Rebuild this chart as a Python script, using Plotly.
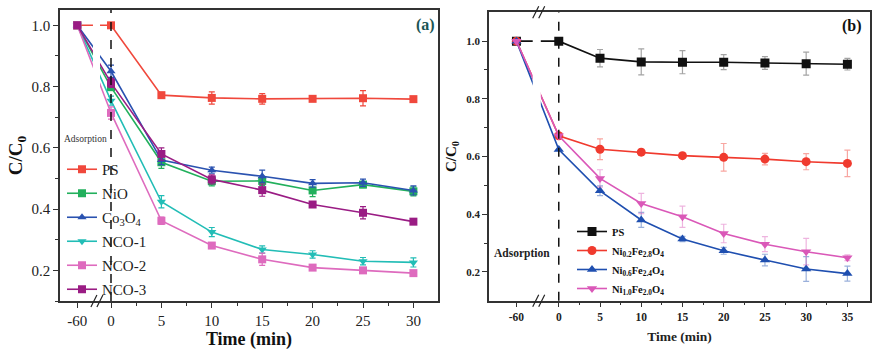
import plotly.graph_objects as go

# ---------------- data: panel (a) ----------------
time_a = [-60, 0, 5, 10, 15, 20, 25, 30]
ps_a = [1.0, 1.0, 0.772, 0.763, 0.760, 0.760, 0.762, 0.759]
ps_a_err = [0, 0, 0.008, 0.02, 0.017, 0.005, 0.025, 0.005]
nio = [1.0, 0.798, 0.553, 0.491, 0.492, 0.461, 0.480, 0.458]
nio_err = [0, 0.01, 0.02, 0.015, 0.015, 0.02, 0.01, 0.015]
co3o4 = [1.0, 0.85, 0.560, 0.527, 0.507, 0.484, 0.486, 0.461]
co3o4_err = [0, 0.02, 0.015, 0.01, 0.02, 0.012, 0.012, 0.015]
nco1 = [1.0, 0.754, 0.424, 0.325, 0.268, 0.252, 0.230, 0.226]
nco1_err = [0, 0.015, 0.02, 0.015, 0.012, 0.012, 0.012, 0.015]
nco2 = [1.0, 0.714, 0.362, 0.281, 0.236, 0.209, 0.200, 0.191]
nco2_err = [0, 0.02, 0.012, 0.008, 0.02, 0.008, 0.008, 0.008]
nco3 = [1.0, 0.812, 0.580, 0.497, 0.462, 0.415, 0.388, 0.359]
nco3_err = [0, 0.015, 0.02, 0.015, 0.02, 0.008, 0.02, 0.008]

# ---------------- data: panel (b) ----------------
time_b = [-60, 0, 5, 10, 15, 20, 25, 30, 35]
ps_b = [1.0, 1.0, 0.941, 0.928, 0.927, 0.927, 0.924, 0.922, 0.920]
ps_b_err = [0, 0, 0.03, 0.045, 0.04, 0.026, 0.022, 0.04, 0.02]
ni02 = [1.0, 0.672, 0.625, 0.615, 0.603, 0.597, 0.591, 0.582, 0.576]
ni02_err = [0, 0, 0.036, 0.01, 0.008, 0.048, 0.02, 0.028, 0.046]
ni06 = [1.0, 0.624, 0.481, 0.380, 0.314, 0.273, 0.241, 0.210, 0.194]
ni06_err = [0, 0, 0.017, 0.026, 0.009, 0.012, 0.02, 0.043, 0.026]
ni10 = [1.0, 0.672, 0.524, 0.437, 0.391, 0.333, 0.296, 0.270, 0.249]
ni10_err = [0, 0, 0.03, 0.035, 0.037, 0.032, 0.026, 0.046, 0.01]

tick_labels_a = ["-60", "0", "5", "10", "15", "20", "25", "30"]
tick_labels_b = ["-60", "0", "5", "10", "15", "20", "25", "30", "35"]

# broken-axis mapping: -60 min is drawn left of the break
NEG_POS_A = -3.35
NEG_POS_B = -5.13


def axis_pos(times, neg_pos):
    return [neg_pos if t < 0 else t for t in times]


xa = axis_pos(time_a, NEG_POS_A)
xb = axis_pos(time_b, NEG_POS_B)

SERIF = "Liberation Serif"
fig = go.Figure()

series_a = [
    ("PS", ps_a, ps_a_err, "#F0483C", "square"),
    ("NiO", nio, nio_err, "#22B05C", "square"),
    ("Co<sub>3</sub>O<sub>4</sub>", co3o4, co3o4_err, "#2A52B0", "triangle-up"),
    ("NCO-1", nco1, nco1_err, "#22BDB6", "triangle-down"),
    ("NCO-2", nco2, nco2_err, "#DE6BBE", "square"),
    ("NCO-3", nco3, nco3_err, "#9A1C84", "square"),
]
for i, (name, ys, err, col, sym) in enumerate(series_a):
    fig.add_trace(go.Scatter(
        x=xa, y=ys, name=name, mode="lines+markers",
        line=dict(color=col, width=1.6),
        marker=dict(color=col, symbol=sym, size=8),
        error_y=dict(type="data", array=err, color=col, thickness=1.2, width=3),
        xaxis="x", yaxis="y", legend="legend", legendgroup="a%d" % i,
    ))

series_b = [
    ("PS", ps_b, ps_b_err, "#111111", "square", "rgba(90,90,90,0.55)"),
    ("Ni<sub>0.2</sub>Fe<sub>2.8</sub>O<sub>4</sub>", ni02, ni02_err, "#F03A2E", "circle", "rgba(240,58,46,0.45)"),
    ("Ni<sub>0.6</sub>Fe<sub>2.4</sub>O<sub>4</sub>", ni06, ni06_err, "#1F4FB0", "triangle-up", "rgba(31,79,176,0.45)"),
    ("Ni<sub>1.0</sub>Fe<sub>2.0</sub>O<sub>4</sub>", ni10, ni10_err, "#DA58B8", "triangle-down", "rgba(218,88,184,0.45)"),
]
for name, ys, err, col, sym, ecol in series_b:
    fig.add_trace(go.Scatter(
        x=xb, y=ys, name=name, mode="lines+markers",
        line=dict(color=col, width=1.6),
        marker=dict(color=col, symbol=sym, size=9),
        error_y=dict(type="data", array=err, color=ecol, thickness=1.2, width=3),
        xaxis="x2", yaxis="y2", legend="legend2",
    ))

W, H = 881, 352
dom_xa = [60 / W, 438 / W]
dom_ya = [1 - 301 / H, 1 - 10 / H]
dom_xb = [489 / W, 870 / W]
dom_yb = [1 - 300.7 / H, 1 - 12.3 / H]

axcol = "#333333"
common = dict(showline=True, linecolor=axcol, linewidth=1.5, mirror=True,
              showgrid=False, zeroline=False, ticks="outside", ticklen=5,
              tickwidth=1.2, tickcolor=axcol)

fig.update_layout(
    width=W, height=H, margin=dict(l=0, r=0, t=0, b=0),
    plot_bgcolor="white", paper_bgcolor="white", showlegend=True,
    xaxis=dict(domain=dom_xa, anchor="y", range=[-5.06, 32.44],
               tickmode="array", tickvals=[NEG_POS_A] + list(range(0, 31, 5)), ticktext=tick_labels_a,
               tickfont=dict(family=SERIF, size=15, color="#222"),
               minor=dict(tickmode="array", tickvals=[2.5, 7.5, 12.5, 17.5, 22.5, 27.5, 32.5],
                          ticks="outside", ticklen=3, tickcolor=axcol),
               title=dict(text="Time (min)", standoff=0,
                          font=dict(family=SERIF, size=18, color="#111", weight="bold")),
               **common),
    yaxis=dict(domain=dom_ya, anchor="x", range=[0.1, 1.05],
               tickmode="array", tickvals=[0.2, 0.4, 0.6, 0.8, 1.0],
               ticktext=["0.2", "0.4", "0.6", "0.8", "1.0"],
               tickfont=dict(family=SERIF, size=15, color="#222"),
               minor=dict(tickmode="array", tickvals=[0.1, 0.3, 0.5, 0.7, 0.9],
                          ticks="outside", ticklen=3, tickcolor=axcol),
               title=dict(text="C/C<sub>0</sub>", standoff=4,
                          font=dict(family=SERIF, size=19, color="#111", weight="bold")),
               **common),
    xaxis2=dict(domain=dom_xb, anchor="y2", range=[-8.46, 37.74],
                tickmode="array", tickvals=[NEG_POS_B] + list(range(0, 36, 5)), ticktext=tick_labels_b,
                tickfont=dict(family=SERIF, size=11.5, color="#222", weight="bold"),
                minor=dict(tickmode="array", tickvals=[2.5, 7.5, 12.5, 17.5, 22.5, 27.5, 32.5],
                           ticks="outside", ticklen=3, tickcolor=axcol),
                title=dict(text="Time (min)", standoff=9,
                           font=dict(family=SERIF, size=13.5, color="#222", weight="bold")),
                **common),
    yaxis2=dict(domain=dom_yb, anchor="x2", range=[0.1, 1.1],
                tickmode="array", tickvals=[0.2, 0.4, 0.6, 0.8, 1.0],
                ticktext=["0.2", "0.4", "0.6", "0.8", "1.0"],
                tickfont=dict(family=SERIF, size=11, color="#222", weight="bold"),
                minor=dict(tickmode="array", tickvals=[0.3, 0.5, 0.7, 0.9],
                           ticks="outside", ticklen=3, tickcolor=axcol),
                title=dict(text="C/C<sub>0</sub>", standoff=6,
                           font=dict(family=SERIF, size=15, color="#111", weight="bold")),
                **common),
    legend=dict(x=62 / W, y=1 - 153 / H, xanchor="left", yanchor="top",
                bgcolor="rgba(0,0,0,0)", tracegroupgap=1.5,
                font=dict(family=SERIF, size=15, color="#222")),
    legend2=dict(x=572 / W, y=1 - 217 / H, xanchor="left", yanchor="top",
                 bgcolor="rgba(0,0,0,0)", itemwidth=30,
                 font=dict(family=SERIF, size=10.5, color="#111", weight="bold")),
)

shapes = []
# gaps at the axis break (white strips through the curves)
shapes.append(dict(type="rect", xref="x", yref="y domain", x0=-1.79, x1=-1.09, y0=0.01, y1=0.99,
                   fillcolor="white", line=dict(width=0), layer="above"))
shapes.append(dict(type="rect", xref="x2", yref="y2 domain", x0=-3.16, x1=-2.18, y0=0.01, y1=0.99,
                   fillcolor="white", line=dict(width=0), layer="above"))
# dashed vertical lines at t = 0
shapes.append(dict(type="line", xref="x", yref="y domain", x0=0, x1=0, y0=0, y1=1,
                   line=dict(color="#111", width=1.5, dash="dash"), layer="above"))
shapes.append(dict(type="line", xref="x2", yref="y2 domain", x0=0, x1=0, y0=0, y1=1,
                   line=dict(color="#111", width=1.5, dash="dash"), layer="above"))
# break marks "//"
for xref, yref, xc, yy in [("x", "y domain", -1.4, 0), ("x2", "y2 domain", -2.43, 0), ("x2", "y2 domain", -2.43, 1)]:
    for dx in (-3, 3):
        shapes.append(dict(type="line", xref=xref, yref=yref, xsizemode="pixel", ysizemode="pixel",
                           xanchor=xc, yanchor=yy, x0=dx - 3, x1=dx + 3, y0=-6, y1=6,
                           line=dict(color="#222", width=1.2), layer="above"))
fig.update_layout(shapes=shapes)

fig.add_annotation(text="Adsorption", xref="paper", yref="paper", x=85 / W, y=1 - 139 / H,
                   xanchor="center", yanchor="middle",
                   showarrow=False, font=dict(family=SERIF, size=9.5, color="#333"))
fig.add_annotation(text="Adsorption", xref="paper", yref="paper", x=522 / W, y=1 - 253 / H,
                   xanchor="center", yanchor="middle",
                   showarrow=False, font=dict(family=SERIF, size=11.5, color="#222", weight="bold"))
fig.add_annotation(text="(a)", xref="paper", yref="paper", x=425 / W, y=1 - 25 / H,
                   xanchor="center", yanchor="middle",
                   showarrow=False, font=dict(family=SERIF, size=16, color="#1B5555", weight="bold"))
fig.add_annotation(text="(b)", xref="paper", yref="paper", x=852 / W, y=1 - 26 / H,
                   xanchor="center", yanchor="middle",
                   showarrow=False, font=dict(family=SERIF, size=16, color="#111", weight="bold"))

fig.write_html("out.html")
